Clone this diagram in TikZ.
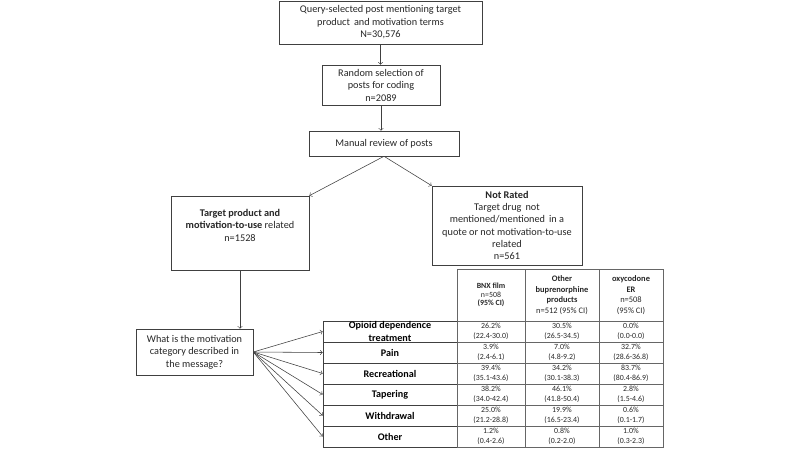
\documentclass[tikz,border=0pt]{standalone}
\usepackage{fontspec}
\setmainfont{Carlito}
\usepackage{tikz}
\usetikzlibrary{arrows,positioning}

\begin{document}
\begin{tikzpicture}
[x=0.025cm,y=-0.025cm,
box/.style={draw=black!75,thin,align=center,inner sep=1pt,text=black!85,font=\fontsize{7.3}{8.9}\selectfont},
cat/.style={draw=black!75,thin,align=center,inner sep=0pt,minimum width=3.35cm,minimum height=0.525cm,font=\bfseries\fontsize{7.2}{8.6}\selectfont},
cell/.style={draw=black!60,thin,align=center,inner sep=0pt,minimum height=0.525cm,text=black!85,font=\fontsize{5.6}{7}\selectfont},
head/.style={cell,minimum height=1.3cm,font=\fontsize{6}{7.6}\selectfont},
arr/.style={->,draw=black!75,thin}]
\useasboundingbox (0,0) rectangle (800,453);

\node[box,minimum width=5.075cm,minimum height=1.075cm] (q) at (380.5,22.5) {Query-selected post mentioning target\\product\, and motivation terms\\N=30,576};
\node[box,minimum width=2.95cm,minimum height=1cm] (rs) at (381,85) {Random selection of\\posts for coding\\n=2089};
\node[box,minimum width=3.75cm,minimum height=0.625cm] (mr) at (384,143.5) {Manual review of posts};
\node[box,minimum width=3.45cm,minimum height=1.85cm] (tp) at (240,233) {\textbf{Target product and}\\\textbf{motivation-to-use} related\\n=1528\\[2pt]};
\node[box,minimum width=3.75cm,minimum height=1.975cm,font=\fontsize{7.3}{8.7}\selectfont] (nr) at (507,225.5) {\textbf{Not Rated}\\Target drug\, not\\mentioned/mentioned\, in a\\quote or not motivation-to-use\\related\\n=561};
\node[box,minimum width=2.925cm,minimum height=1.15cm] (wm) at (194.5,352) {What is the motivation\\category described in\\the message?};

% categories
\node[cat] (k1) at (390,331.5) {Opioid dependence\\treatment};
\node[cat] (k2) at (390,352.5) {Pain};
\node[cat] (k3) at (390,373.5) {Recreational};
\node[cat] (k4) at (390,394.5) {Tapering};
\node[cat] (k5) at (390,415.5) {Withdrawal};
\node[cat] (k6) at (390,436.5) {Other};

% table head
\node[head,minimum width=1.7cm,font=\fontsize{5.6}{5.9}\selectfont] (h1) at (491,295) {\textbf{BNX film}\\n=508\\\textbf{(95\% CI)}};
\node[head,minimum width=1.85cm] (h2) at (562,295) {\textbf{Other}\\\textbf{buprenorphine}\\\textbf{products}\\n=512 (95\% CI)};
\node[head,minimum width=1.6cm] (h3) at (631,295) {\textbf{oxycodone}\\\textbf{ER}\\n=508\\(95\% CI)};

% table body
\node[cell,minimum width=1.7cm] (11) at (491,331.5) {26.2\%\\(22.4-30.0)};
\node[cell,minimum width=1.85cm] (12) at (562,331.5) {30.5\%\\(26.5-34.5)};
\node[cell,minimum width=1.6cm] (13) at (631,331.5) {0.0\%\\(0.0-0.0)};
\node[cell,minimum width=1.7cm] (21) at (491,352.5) {3.9\%\\(2.4-6.1)};
\node[cell,minimum width=1.85cm] (22) at (562,352.5) {7.0\%\\(4.8-9.2)};
\node[cell,minimum width=1.6cm] (23) at (631,352.5) {32.7\%\\(28.6-36.8)};
\node[cell,minimum width=1.7cm] (31) at (491,373.5) {39.4\%\\(35.1-43.6)};
\node[cell,minimum width=1.85cm] (32) at (562,373.5) {34.2\%\\(30.1-38.3)};
\node[cell,minimum width=1.6cm] (33) at (631,373.5) {83.7\%\\(80.4-86.9)};
\node[cell,minimum width=1.7cm] (41) at (491,394.5) {38.2\%\\(34.0-42.4)};
\node[cell,minimum width=1.85cm] (42) at (562,394.5) {46.1\%\\(41.8-50.4)};
\node[cell,minimum width=1.6cm] (43) at (631,394.5) {2.8\%\\(1.5-4.6)};
\node[cell,minimum width=1.7cm] (51) at (491,415.5) {25.0\%\\(21.2-28.8)};
\node[cell,minimum width=1.85cm] (52) at (562,415.5) {19.9\%\\(16.5-23.4)};
\node[cell,minimum width=1.6cm] (53) at (631,415.5) {0.6\%\\(0.1-1.7)};
\node[cell,minimum width=1.7cm] (61) at (491,436.5) {1.2\%\\(0.4-2.6)};
\node[cell,minimum width=1.85cm] (62) at (562,436.5) {0.8\%\\(0.2-2.0)};
\node[cell,minimum width=1.6cm] (63) at (631,436.5) {1.0\%\\(0.3-2.3)};

\draw [arr] (q.south) -- (q.south |- rs.north);
\draw [arr] (rs.south) -- (rs.south |- mr.north);
\draw [arr] (mr.south) -- (tp.north east);
\draw [arr] (mr.south) -- (nr.north west);
\draw [arr] (tp.south) -- (tp.south |- wm.north);
\draw [arr] (wm.east) -- (k1.west);
\draw [arr] (wm.east) -- (k2.west);
\draw [arr] (wm.east) -- (k3.west);
\draw [arr] (wm.east) -- (k4.west);
\draw [arr] (wm.east) -- (k5.west);
\draw [arr] (wm.east) -- (k6.west);
\end{tikzpicture}
\end{document}
